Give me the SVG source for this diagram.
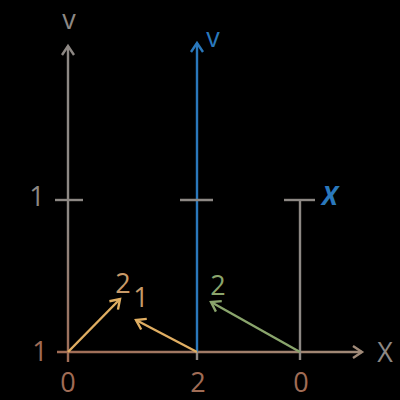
<svg xmlns="http://www.w3.org/2000/svg" width="400" height="400" viewBox="0 0 400 400">
<style>
text{font-family:"Open Sans","Noto Sans","DejaVu Sans",sans-serif;font-size:27px;text-anchor:middle}
.ln{fill:none;stroke-width:2.4;stroke-linecap:butt}
.grey{fill:#8d8884}
.brown{fill:#a06c55}
.tan{fill:#c89a68}
.green{fill:#8aa56c}
.blue{fill:#2a78bc}
</style>
<defs>
<linearGradient id="gv" x1="0" y1="45" x2="0" y2="362" gradientUnits="userSpaceOnUse">
<stop offset="0" stop-color="#8d8884"/><stop offset="0.55" stop-color="#8d8884"/><stop offset="1" stop-color="#a06c55"/>
</linearGradient>
<linearGradient id="gh" x1="57" y1="0" x2="363" y2="0" gradientUnits="userSpaceOnUse">
<stop offset="0" stop-color="#a06c55"/><stop offset="1" stop-color="#a08a78"/>
</linearGradient>
<marker id="mGrey" markerUnits="userSpaceOnUse" markerWidth="20" markerHeight="20" refX="0" refY="0" viewBox="-12 -10 20 20" orient="auto" overflow="visible"><path d="M-9,-6 L0,0 L-9,6" fill="none" stroke="#8d8884" stroke-width="2.4"/></marker>
<marker id="mBlue" markerUnits="userSpaceOnUse" markerWidth="20" markerHeight="20" refX="0" refY="0" viewBox="-12 -10 20 20" orient="auto" overflow="visible"><path d="M-9,-6 L0,0 L-9,6" fill="none" stroke="#2a78bc" stroke-width="2.4"/></marker>
<marker id="mAxis" markerUnits="userSpaceOnUse" markerWidth="20" markerHeight="20" refX="0" refY="0" viewBox="-12 -10 20 20" orient="auto" overflow="visible"><path d="M-9,-6 L0,0 L-9,6" fill="none" stroke="#a08a78" stroke-width="2.4"/></marker>
<marker id="mTan" markerUnits="userSpaceOnUse" markerWidth="20" markerHeight="20" refX="0" refY="0" viewBox="-12 -10 20 20" orient="auto" overflow="visible"><path d="M-9,-6 L0,0 L-9,6" fill="none" stroke="#e0ae62" stroke-width="2.4"/></marker>
<marker id="mGreen" markerUnits="userSpaceOnUse" markerWidth="20" markerHeight="20" refX="0" refY="0" viewBox="-12 -10 20 20" orient="auto" overflow="visible"><path d="M-9,-6 L0,0 L-9,6" fill="none" stroke="#8aa56c" stroke-width="2.4"/></marker>
</defs>
<rect width="400" height="400" fill="#000"/>
<g id="connectors">
<line class="ln" x1="68" y1="362" x2="68" y2="46" stroke="url(#gv)" marker-end="url(#mGrey)"/>
<line class="ln" x1="57" y1="352" x2="362" y2="352" stroke="url(#gh)" marker-end="url(#mAxis)"/>
<line class="ln" x1="197" y1="352" x2="197" y2="43" stroke="#2a78bc" marker-end="url(#mBlue)"/>
<line class="ln" x1="197" y1="352" x2="197" y2="360" stroke="#8d8884"/>
<line class="ln" x1="300" y1="360" x2="300" y2="200" stroke="#8d8884"/>
<line class="ln" x1="55" y1="200" x2="83" y2="200" stroke="#8d8884"/>
<line class="ln" x1="180" y1="200" x2="213" y2="200" stroke="#8d8884"/>
<line class="ln" x1="284" y1="200" x2="315" y2="200" stroke="#8d8884"/>
<line class="ln" x1="68" y1="352" x2="120" y2="299" stroke="#e0ae62" marker-end="url(#mTan)"/>
<line class="ln" x1="197" y1="352" x2="136" y2="320" stroke="#e0ae62" marker-end="url(#mTan)"/>
<line class="ln" x1="300" y1="352" x2="211" y2="302" stroke="#8aa56c" marker-end="url(#mGreen)"/>
</g>
<g id="labels">
<text class="grey" x="69" y="29">v</text>
<text class="blue" x="213" y="47">v</text>
<text class="grey" x="37" y="206">1</text>
<text class="blue" x="330" y="205" style="font-weight:bold;font-style:italic;font-size:26px">X</text>
<text class="brown" x="40" y="361">1</text>
<text class="grey" x="385" y="362">X</text>
<text class="brown" x="68" y="392">0</text>
<text class="brown" x="198" y="392">2</text>
<text class="brown" x="301" y="392">0</text>
<text class="tan" x="123" y="293">2</text>
<text class="tan" x="141" y="307">1</text>
<text class="green" x="218" y="295">2</text>
</g>
</svg>
